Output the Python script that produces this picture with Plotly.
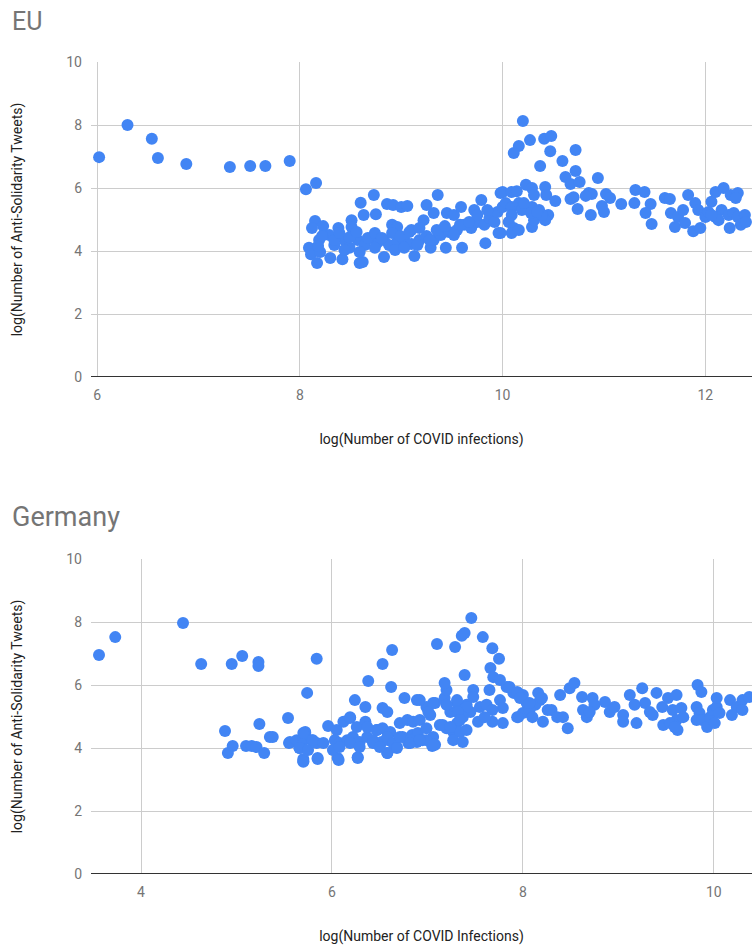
import plotly.graph_objects as go

# ---------------- EU data: (log infections, log anti-solidarity tweets) ----------------
eu_x = [
    6.02, 6.30, 6.54, 6.60, 6.88, 7.31, 7.51, 7.66, 7.90, 8.06, 8.16,
    8.15, 8.23, 8.38, 8.51, 8.51, 8.09, 8.11, 8.17, 8.42, 8.59, 8.62, 8.83, 9.13, 8.91, 8.96,
    9.10, 9.22, 9.32, 9.45, 9.52, 9.59, 9.72, 9.79, 9.60, 9.83, 9.96, 9.98, 9.44, 9.29,
    8.60, 8.73, 8.63, 8.75, 8.86, 8.92, 9.00, 9.06, 9.36, 9.25,
    8.19, 8.29, 8.34, 8.44, 8.49, 8.57, 8.64, 8.70, 8.76, 8.83, 8.88, 8.96, 9.03, 9.10, 9.18,
    9.25, 9.32, 9.39, 9.47, 9.55, 9.62, 9.69, 9.75, 9.82, 9.87, 9.92, 9.95,
    8.20, 8.30, 8.18, 8.44, 8.59, 8.74, 8.94, 9.03, 9.16, 9.28, 9.58, 9.67, 9.52, 9.75, 9.85,
    8.12, 8.22, 8.34, 8.39, 8.49, 8.56, 8.67, 8.74, 8.81, 8.91, 8.99, 9.08, 9.18, 9.35, 9.43,
    10.20, 10.27, 10.16, 10.11, 10.41, 10.48, 10.47, 10.72, 10.37, 10.59, 10.72, 10.62, 10.67,
    10.76, 10.94, 10.85, 10.88, 10.67, 10.70, 10.82, 10.74, 10.87, 10.98, 11.00, 11.02, 11.06,
    11.17, 11.31, 11.40, 11.30, 11.46, 11.41, 11.47, 11.60, 11.65, 11.83, 11.66, 11.73, 11.70,
    11.78, 11.80, 11.90, 11.93, 11.88, 11.95, 12.00, 12.03, 12.06, 12.10, 12.18, 12.25, 12.32,
    12.30, 12.16, 12.23, 12.28, 12.32, 12.39, 12.24, 12.35, 12.40, 12.10, 12.13, 12.06,
    10.00, 10.09, 10.14, 10.23, 10.29, 10.31, 10.42, 10.43, 10.52, 10.00, 10.03, 10.09, 10.16,
    10.19, 10.29, 10.36, 10.42, 10.45, 10.09, 10.06, 10.11, 10.09, 10.16, 10.29, 10.31, 10.42,
    10.39, 9.98, 10.28, 10.34, 10.21,
]
eu_y = [
    6.98, 8.00, 7.56, 6.95, 6.76, 6.67, 6.70, 6.70, 6.86, 5.96, 6.16,
    4.95, 4.79, 4.73, 4.98, 4.76, 4.10, 3.90, 3.62, 3.74, 3.62, 3.65, 3.81, 3.84, 4.83, 4.76,
    4.67, 4.98, 5.21, 5.21, 5.14, 5.40, 5.30, 5.62, 4.10, 4.25, 4.57, 5.84, 4.10, 4.10,
    5.53, 5.78, 5.14, 5.17, 5.49, 5.46, 5.40, 5.43, 5.78, 5.46,
    4.35, 4.51, 4.19, 4.35, 4.10, 4.35, 4.19, 4.41, 4.25, 4.35, 4.19, 4.29, 4.35, 4.22, 4.35,
    4.48, 4.35, 4.51, 4.60, 4.67, 4.83, 4.73, 4.92, 4.83, 5.05, 4.92, 5.24,
    3.97, 3.78, 4.16, 4.03, 3.97, 4.10, 4.03, 4.10, 4.19, 4.35, 4.83, 4.92, 4.51, 5.14, 5.30,
    4.73, 4.48, 4.35, 4.57, 4.44, 4.60, 4.41, 4.57, 4.41, 4.57, 4.48, 4.60, 4.73, 4.67, 4.79,
    8.13, 7.52, 7.33, 7.11, 7.56, 7.65, 7.17, 7.21, 6.70, 6.86, 6.54, 6.35, 6.13,
    6.19, 6.32, 5.84, 5.81, 5.65, 5.71, 5.75, 5.33, 5.14, 5.43, 5.24, 5.81, 5.68,
    5.49, 5.94, 5.87, 5.52, 5.49, 5.21, 4.86, 5.68, 5.65, 5.78, 5.21, 5.08, 4.76,
    5.30, 4.89, 5.52, 5.30, 4.63, 4.73, 5.08, 5.24, 5.56, 5.87, 6.00, 5.78, 5.84,
    5.68, 5.30, 5.14, 5.21, 5.08, 5.14, 4.73, 4.83, 4.92, 5.08, 4.98, 5.14,
    5.87, 5.87, 5.90, 6.10, 6.00, 5.78, 6.03, 5.78, 5.59, 5.40, 5.52, 5.40, 5.52,
    5.30, 5.40, 5.30, 5.08, 5.14, 5.14, 4.92, 4.73, 4.57, 4.67, 4.76, 4.98, 4.98,
    5.14, 4.57, 5.21, 5.24, 5.52,
]

# ---------------- Germany data ----------------
de_x = [
    3.56, 3.73, 4.44, 4.63, 4.95, 5.06, 5.23, 5.23, 5.74, 5.84,
    4.88, 5.24, 5.54, 4.96, 4.91, 5.10, 5.16, 5.21, 5.29, 5.35, 5.38, 5.55, 5.64, 5.70, 5.66,
    5.70, 5.72,
    6.63, 6.53, 7.10, 6.38, 6.62, 6.24, 6.35, 6.76, 6.89, 6.53, 6.58, 5.96, 5.72,
    5.56, 5.63, 5.70, 5.79, 5.84, 5.66, 5.75, 5.70, 5.85,
    6.05, 6.12, 6.19, 6.35, 6.03, 6.08, 6.16, 6.06, 6.27, 6.01,
    6.22, 6.29, 6.37, 6.47, 6.53, 6.61, 6.43, 6.52, 6.59, 6.58, 6.68,
    6.71, 6.79, 6.85, 6.92, 6.74, 6.84, 6.90, 6.80, 6.89, 6.95, 6.99, 7.06, 7.05, 7.08,
    6.99, 7.03, 7.08, 7.18, 7.20, 7.18, 7.13, 7.20,
    7.46, 7.36, 7.39, 7.29, 7.58, 7.68, 7.75, 7.66, 7.69, 7.39,
    7.48, 7.48, 7.65, 7.76, 7.83, 7.90, 7.97, 8.04, 7.76, 7.79, 7.55, 7.62, 7.68,
    7.41, 7.45, 7.31, 7.24, 7.06, 7.01, 7.53, 7.68, 7.79, 7.60, 7.94, 8.00, 7.31,
    7.27, 7.34, 7.41, 7.27, 7.37, 6.99, 7.06, 6.82, 6.58, 6.64, 6.71,
    6.26, 6.37, 6.47, 6.19, 5.70, 5.80, 5.91, 6.08, 6.19, 6.29, 6.43,
    6.07, 6.27, 6.58, 5.85, 5.70, 6.50, 6.68, 6.82, 6.92,
    7.95, 8.00, 8.16, 8.18, 8.13, 8.07, 7.95, 8.21, 8.26,
    7.31, 7.20, 6.92, 7.41, 7.37, 7.32, 7.16, 7.24, 7.34,
    7.86, 7.94, 7.97, 8.20, 8.07, 8.10, 8.30, 8.36, 8.42, 8.47, 8.39, 8.49, 8.54,
    8.62, 8.63, 8.67, 8.73, 8.75, 8.70, 8.86, 8.91, 8.96, 9.05, 9.05, 9.12, 9.17, 9.25,
    9.19, 9.28, 9.33, 9.40, 9.36, 9.46, 9.47, 9.52, 9.61, 9.57, 9.61, 9.66, 9.68, 9.62,
    9.54, 9.59, 9.83, 9.87, 9.82, 9.85, 9.82, 9.88, 9.93, 9.96, 9.99, 10.03, 10.06, 10.01,
    10.03, 10.17, 10.24, 10.30, 10.37, 10.19, 10.30,
]
de_y = [
    6.95, 7.52, 7.97, 6.67, 6.67, 6.92, 6.73, 6.60, 5.75, 6.83,
    4.54, 4.76, 4.95, 4.06, 3.84, 4.06, 4.06, 4.03, 3.84, 4.35, 4.35, 4.16, 4.16, 4.25, 4.00,
    3.59, 4.48,
    7.11, 6.67, 7.30, 6.13, 5.94, 5.52, 5.30, 5.59, 5.52, 5.27, 5.14, 4.70, 4.51,
    4.19, 4.25, 4.32, 4.25, 4.16, 4.00, 3.94, 3.65, 3.68,
    4.57, 4.83, 4.95, 4.83, 4.25, 4.16, 4.25, 3.68, 3.71, 3.94,
    4.35, 4.19, 4.35, 4.57, 4.63, 4.51, 4.25, 4.19, 4.25, 3.84, 4.03,
    4.79, 4.89, 4.83, 4.89, 4.35, 4.41, 4.48, 4.16, 4.19, 4.25, 4.63, 4.35, 4.06, 4.10,
    5.30, 5.05, 5.43, 5.59, 5.84, 6.06, 4.73, 4.63,
    8.13, 7.56, 7.65, 7.21, 7.52, 7.17, 6.83, 6.54, 6.25, 6.32,
    5.84, 5.62, 5.84, 6.16, 5.94, 5.75, 5.62, 5.43, 5.52, 5.27, 5.30, 5.37, 5.21,
    5.37, 5.14, 5.43, 5.14, 5.43, 5.14, 4.83, 4.83, 4.79, 4.98, 4.98, 5.11, 4.79,
    4.51, 4.51, 4.57, 4.25, 4.19, 4.25, 4.10, 4.25, 4.35, 4.16, 4.35,
    4.67, 4.67, 4.57, 4.98, 4.48, 4.25, 4.16, 4.03, 4.16, 4.03, 4.16,
    3.62, 3.68, 3.84, 3.65, 3.56, 4.03, 4.00, 4.16, 4.25,
    5.75, 5.68, 5.75, 5.52, 5.37, 5.21, 4.98, 4.83, 5.21,
    5.52, 5.37, 5.52, 5.30, 4.98, 5.14, 4.73, 4.67, 4.89,
    5.94, 5.78, 5.59, 5.59, 5.43, 4.98, 5.21, 4.98, 4.98, 4.63, 5.68, 5.90, 6.06,
    5.62, 5.21, 4.98, 5.59, 5.37, 5.14, 5.46, 5.14, 5.30, 5.05, 4.83, 5.68, 5.37, 5.90,
    4.79, 5.43, 5.14, 5.75, 5.05, 5.30, 4.73, 5.59, 5.68, 5.21, 4.89, 5.27, 4.98, 4.57,
    4.79, 4.67, 6.00, 5.78, 5.30, 5.11, 4.89, 4.89, 4.67, 4.98, 5.21, 5.30, 5.11, 4.79,
    5.59, 5.52, 5.30, 5.52, 5.62, 5.05, 5.21,
]

y_ticks = [0, 2, 4, 6, 8, 10]
eu_x_ticks = [6, 8, 10, 12]
de_x_ticks = [4, 6, 8, 10]

BLUE = "#4285F4"
W, H = 752, 948
FONT = "Roboto"

fig = go.Figure()
fig.add_trace(go.Scatter(x=eu_x, y=eu_y, mode="markers", xaxis="x", yaxis="y",
                         marker=dict(color=BLUE, size=12, line=dict(width=0)),
                         showlegend=False))
fig.add_trace(go.Scatter(x=de_x, y=de_y, mode="markers", xaxis="x2", yaxis="y2",
                         marker=dict(color=BLUE, size=12, line=dict(width=0)),
                         showlegend=False))

def ydom(top_px, bot_px):
    return [1 - bot_px / H, 1 - top_px / H]

axis_common = dict(
    showgrid=True, gridcolor="#cccccc", gridwidth=1,
    showline=False, ticks="", zeroline=False, automargin=False,
    tickfont=dict(family=FONT, size=14, color="#757575"),
    title_font=dict(family=FONT, size=14, color="#222222"),
)
xaxis_extra = dict(ticklabelstandoff=8)
yaxis_extra = dict(ticklabelstandoff=8)

LEFT = 91 / W

fig.update_layout(
    width=W, height=H,
    margin=dict(l=0, r=0, t=0, b=0, pad=0),
    paper_bgcolor="white", plot_bgcolor="white",
    font=dict(family=FONT),
    xaxis=dict(domain=[LEFT, 1], range=[5.94, 12.46], tickvals=eu_x_ticks,
               anchor="y", title=dict(text="log(Number of COVID infections)", standoff=32),
               **axis_common, **xaxis_extra),
    yaxis=dict(domain=ydom(62, 377), range=[0, 10], tickvals=y_ticks, anchor="x",
               title=dict(text="log(Number of Anti-Solidarity Tweets)", standoff=40),
               **axis_common, **yaxis_extra),
    xaxis2=dict(domain=[LEFT, 1], range=[3.476, 10.40], tickvals=de_x_ticks,
                anchor="y2", title=dict(text="log(Number of COVID Infections)", standoff=32),
                **axis_common, **xaxis_extra),
    yaxis2=dict(domain=ydom(559, 874), range=[0, 10], tickvals=y_ticks, anchor="x2",
                title=dict(text="log(Number of Anti-Solidarity Tweets)", standoff=40),
                **axis_common, **yaxis_extra),
    shapes=[
        dict(type="line", xref="paper", yref="y", x0=LEFT, x1=1, y0=0, y1=0,
             line=dict(color="#333333", width=2), layer="above"),
        dict(type="line", xref="paper", yref="y2", x0=LEFT, x1=1, y0=0, y1=0,
             line=dict(color="#333333", width=2), layer="above"),
    ],
    annotations=[
        dict(text="EU", xref="paper", yref="paper", x=10 / W, y=1 - 21 / H,
             xanchor="left", yanchor="middle", showarrow=False,
             font=dict(family=FONT, size=25, color="#757575")),
        dict(text="Germany", xref="paper", yref="paper", x=10 / W, y=1 - 517 / H,
             xanchor="left", yanchor="middle", showarrow=False,
             font=dict(family=FONT, size=27, color="#757575")),
    ],
)

# remove the browser's default 8px page margin so the figure fills the window exactly
fig.write_html("out.html",
               config={"displayModeBar": False},
               post_script="document.body.style.margin='0';"
                           "document.body.style.overflow='hidden';")
